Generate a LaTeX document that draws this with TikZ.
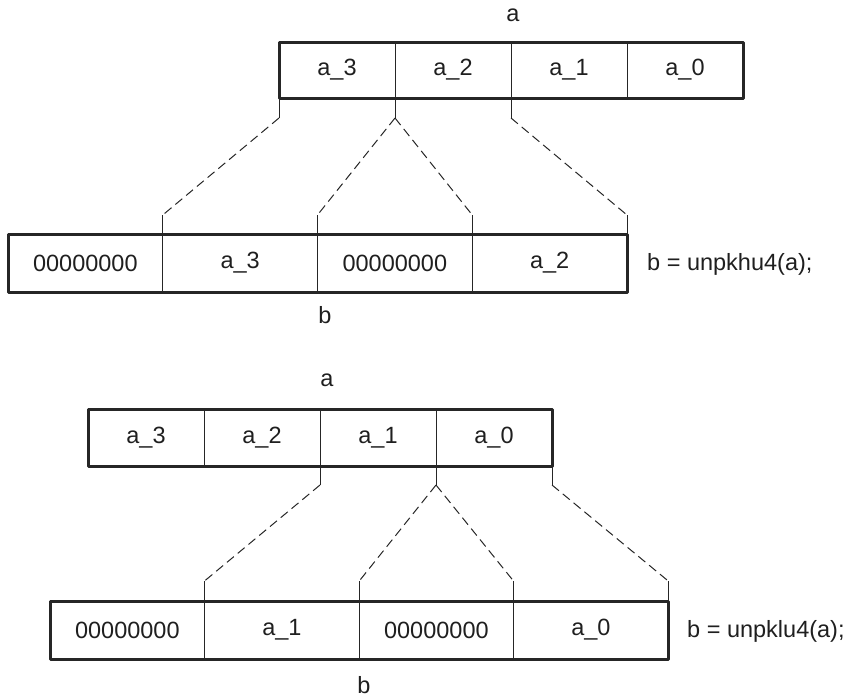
\documentclass[tikz,border=0pt]{standalone}
\usepackage{fontspec}
\setmainfont{Liberation Sans}
\usetikzlibrary{calc}
\definecolor{ln}{gray}{0.15}
\definecolor{txt}{gray}{0.12}
\begin{document}
\begin{tikzpicture}[x=1pt,y=-1pt,
  lbl/.style={font=\fontsize{23.5}{27}\selectfont, text=txt, inner sep=0pt},
  cell/.style={draw=ln, line width=1pt, inner sep=0pt, outer sep=0pt, anchor=north west, font=\fontsize{23.5}{27}\selectfont, text=txt},
  acell/.style={cell, minimum width=116pt, minimum height=56pt},
  bcell/.style={cell, minimum width=154.75pt, minimum height=58pt},
  frame/.style={draw=ln, line width=3pt, line join=round},
  stub/.style={draw=ln, line width=1pt},
  dashline/.style={draw=ln, line width=1pt, dash pattern=on 9pt off 5pt}]
\useasboundingbox (0,0) rectangle (850,697);

% ---------- top: unpkhu4 ----------
\node[lbl] (la) at (513,15) {a};
\node[acell] (a3) at (279,42) {a\_3};
\node[acell] (a2) at (395,42) {a\_2};
\node[acell] (a1) at (511,42) {a\_1};
\node[acell] (a0) at (627,42) {a\_0};
\draw[frame] (a3.north west) rectangle (a0.south east);

\node[bcell] (b1) at (8,234) {00000000};
\node[bcell] (b2) at (162.75,234) {a\_3};
\node[bcell] (b3) at (317.5,234) {00000000};
\node[bcell] (b4) at (472.25,234) {a\_2};
\draw[frame] (b1.north west) rectangle (b4.south east);
\node[lbl] (lb) at (325,315) {b};
\node[lbl, anchor=west] (fh) at (647,264) {b = unpkhu4(a);};

\coordinate (u1) at ($(a3.south west)+(0,20)$);
\coordinate (u2) at ($(a2.south west)+(0,20)$);
\coordinate (u3) at ($(a1.south west)+(0,20)$);
\coordinate (v1) at ($(b2.north west)+(0,-19)$);
\coordinate (v2) at ($(b2.north east)+(0,-19)$);
\coordinate (v3) at ($(b4.north west)+(0,-19)$);
\coordinate (v4) at ($(b4.north east)+(0,-19)$);
\draw[stub] (a3.south west) -- (u1);
\draw[stub] (a2.south west) -- (u2);
\draw[stub] (a1.south west) -- (u3);
\draw[dashline] (u1) -- (v1);
\draw[dashline] (u2) -- (v2);
\draw[dashline] (u2) -- (v3);
\draw[dashline] (u3) -- (v4);
\draw[stub] (v1) -- (b2.north west);
\draw[stub] (v2) -- (b2.north east);
\draw[stub] (v3) -- (b4.north west);
\draw[stub] (v4) -- (b4.north east);

% ---------- bottom: unpklu4 ----------
\node[lbl] (la2) at (327,380) {a};
\node[acell, minimum height=57pt] (c3) at (88,409) {a\_3};
\node[acell, minimum height=57pt] (c2) at (204,409) {a\_2};
\node[acell, minimum height=57pt] (c1) at (320,409) {a\_1};
\node[acell, minimum height=57pt] (c0) at (436,409) {a\_0};
\draw[frame] (c3.north west) rectangle (c0.south east);

\node[bcell] (d1) at (50,601) {00000000};
\node[bcell] (d2) at (204.5,601) {a\_1};
\node[bcell] (d3) at (359,601) {00000000};
\node[bcell] (d4) at (513.5,601) {a\_0};
\draw[frame] (d1.north west) rectangle (d4.south east);
\node[lbl] (lb2) at (364,685) {b};
\node[lbl, anchor=west] (fl) at (687,631) {b = unpklu4(a);};

\coordinate (s1) at ($(c1.south west)+(0,19)$);
\coordinate (s2) at ($(c0.south west)+(0,19)$);
\coordinate (s3) at ($(c0.south east)+(0,19)$);
\coordinate (t1) at ($(d2.north west)+(0,-20)$);
\coordinate (t2) at ($(d2.north east)+(0,-20)$);
\coordinate (t3) at ($(d4.north west)+(0,-20)$);
\coordinate (t4) at ($(d4.north east)+(0,-20)$);
\draw[stub] (c1.south west) -- (s1);
\draw[stub] (c0.south west) -- (s2);
\draw[stub] (c0.south east) -- (s3);
\draw[dashline] (s1) -- (t1);
\draw[dashline] (s2) -- (t2);
\draw[dashline] (s2) -- (t3);
\draw[dashline] (s3) -- (t4);
\draw[stub] (t1) -- (d2.north west);
\draw[stub] (t2) -- (d2.north east);
\draw[stub] (t3) -- (d4.north west);
\draw[stub] (t4) -- (d4.north east);
\end{tikzpicture}
\end{document}
